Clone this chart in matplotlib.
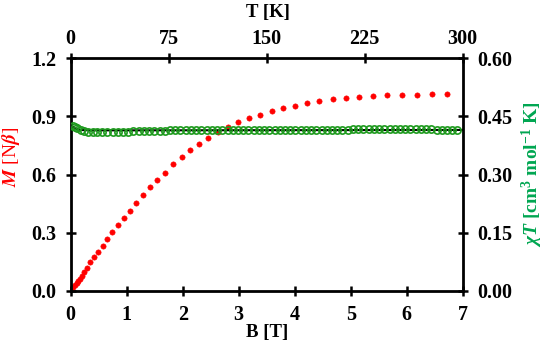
import matplotlib
matplotlib.use("Agg")
import matplotlib.pyplot as plt

# ---- data ----
B_field = [0.005, 0.047, 0.077, 0.107, 0.136, 0.171, 0.207, 0.243, 0.291, 0.345, 0.421,
           0.493, 0.571, 0.654, 0.743, 0.839, 0.952, 1.059, 1.166, 1.286, 1.416, 1.548,
           1.684, 1.832, 1.982, 2.13, 2.29, 2.457, 2.625, 2.814, 2.993, 3.189, 3.38,
           3.589, 3.796, 4.005, 4.214, 4.439, 4.679, 4.916, 5.154, 5.404, 5.654, 5.911,
           6.179, 6.446, 6.725]
M_vals = [0.007, 0.018, 0.029, 0.038, 0.050, 0.060, 0.077, 0.098, 0.119, 0.147, 0.172,
          0.201, 0.232, 0.265, 0.301, 0.338, 0.374, 0.411, 0.453, 0.492, 0.534, 0.572,
          0.610, 0.654, 0.690, 0.724, 0.757, 0.791, 0.817, 0.843, 0.869, 0.892, 0.909,
          0.929, 0.942, 0.954, 0.967, 0.979, 0.990, 0.995, 1.000, 1.005, 1.008, 1.010,
          1.013, 1.015, 1.018]

T_vals = [2, 3, 5, 8, 10, 13, 17, 20, 24, 28, 32, 36, 40, 44, 48, 52, 56, 60, 64, 68,
          72, 76, 80, 84, 88, 92, 96, 100, 104, 108, 112, 116, 120, 124, 128, 132, 136,
          140, 144, 148, 152, 156, 160, 164, 168, 172, 176, 180, 184, 188, 192, 196, 200,
          204, 208, 212, 216, 220, 224, 228, 232, 236, 240, 244, 248, 252, 256, 260, 264,
          268, 272, 276, 280, 284, 288, 292, 296]
chiT_vals = [0.426, 0.423, 0.419, 0.415, 0.412, 0.410, 0.409, 0.409, 0.409, 0.409,
             0.410, 0.410, 0.411, 0.411, 0.412, 0.412, 0.413, 0.413, 0.413, 0.413,
             0.413, 0.414, 0.414, 0.414, 0.414, 0.414, 0.414, 0.414, 0.414, 0.414,
             0.414, 0.414, 0.415, 0.415, 0.415, 0.415, 0.415, 0.415, 0.415, 0.415,
             0.415, 0.415, 0.415, 0.415, 0.415, 0.415, 0.415, 0.415, 0.415, 0.415,
             0.415, 0.416, 0.416, 0.416, 0.416, 0.416, 0.417, 0.417, 0.417, 0.417,
             0.418, 0.418, 0.418, 0.418, 0.418, 0.418, 0.418, 0.418, 0.417, 0.417,
             0.417, 0.417, 0.416, 0.414, 0.416, 0.415, 0.415]

fit_T = [0.5, 1, 2, 3, 4, 6, 8, 10, 15, 20, 50, 100, 150, 200, 250, 300]
fit_chiT = [0.426, 0.425, 0.422, 0.420, 0.418, 0.416, 0.415, 0.4145, 0.414, 0.414,
            0.414, 0.4142, 0.4144, 0.4146, 0.4148, 0.415]

B_ticks = [0, 1, 2, 3, 4, 5, 6, 7]
M_ticks = [0.0, 0.3, 0.6, 0.9, 1.2]
T_ticks = [0, 75, 150, 225, 300]
chi_ticks = [0.00, 0.15, 0.30, 0.45, 0.60]

# ---- style ----
plt.rcParams['font.family'] = ['Liberation Serif', 'DejaVu Serif']
plt.rcParams['font.weight'] = 'bold'
plt.rcParams['mathtext.fontset'] = 'custom'
plt.rcParams['mathtext.rm'] = 'Liberation Serif:bold'
plt.rcParams['mathtext.it'] = 'Liberation Serif:bold:italic'
plt.rcParams['mathtext.bf'] = 'Liberation Serif:bold'

RED = '#ff0000'
GREEN = '#1e9a1e'
GREEN_LBL = '#00a651'

fig = plt.figure(figsize=(5.5, 3.48), dpi=100)
rect = [70.7 / 550, 1 - 290.7 / 348, (462.7 - 70.7) / 550, (290.7 - 58.3) / 348]
ax = fig.add_axes(rect)
ax2 = fig.add_axes(rect, label='top-right')
ax2.patch.set_visible(False)

# bottom/left axes: M vs B
ax.plot(B_field, M_vals, linestyle='none', marker='o', ms=3.8, mfc=RED, mec=RED,
        mew=0.4, zorder=2)
ax.set_xlim(0, 7)
ax.set_ylim(0, 1.2)
ax.set_xticks(B_ticks)
ax.set_xticklabels([str(v) for v in B_ticks])
ax.set_yticks(M_ticks)
ax.set_yticklabels([f"{v:.1f}" for v in M_ticks])

# top/right axes: chiT vs T
ax2.plot(fit_T, fit_chiT, color='black', lw=1.5, zorder=3)
ax2.plot(T_vals, chiT_vals, linestyle='none', marker='o', ms=5.2, mfc='none',
         mec=GREEN, mew=1.2, zorder=4)
ax2.set_xlim(0, 300)
ax2.set_ylim(0, 0.6)
ax2.xaxis.tick_top()
ax2.yaxis.tick_right()
ax2.set_xticks(T_ticks)
ax2.set_xticklabels([str(v) for v in T_ticks])
ax2.set_yticks(chi_ticks)
ax2.set_yticklabels([f"{v:.2f}" for v in chi_ticks])

for a in (ax, ax2):
    for s in a.spines.values():
        s.set_linewidth(2.0)
    a.tick_params(direction='inout', length=7, width=1.8, pad=7,
                  labelsize=14.5)
    for lbl in a.get_xticklabels() + a.get_yticklabels():
        lbl.set_fontweight('bold')
ax2.tick_params(axis='x', pad=3)

ax2.spines['left'].set_visible(False)
ax2.spines['bottom'].set_visible(False)
ax.spines['top'].set_visible(False)
ax.spines['right'].set_visible(False)

# axis labels
fig.text(267 / 550, 1 - 332 / 348, 'B [T]', ha='center', va='center',
         fontsize=13.5, fontweight='bold')
fig.text(268 / 550, 1 - 13 / 348, 'T [K]', ha='center', va='center',
         fontsize=13.5, fontweight='bold')
fig.text(11 / 550, 1 - 157 / 348, r'$M$ [N$\beta$]', ha='center', va='center',
         rotation=90, fontsize=14, color=RED, fontweight='normal',
         math_fontfamily='stix')
fig.text(532 / 550, 1 - 174 / 348, r'$\chi T$ [cm$^{3}$ mol$^{-1}$ K]',
         ha='center', va='center', rotation=90, fontsize=14, color=GREEN_LBL,
         fontweight='bold')

fig.savefig('out.png', dpi=100)
